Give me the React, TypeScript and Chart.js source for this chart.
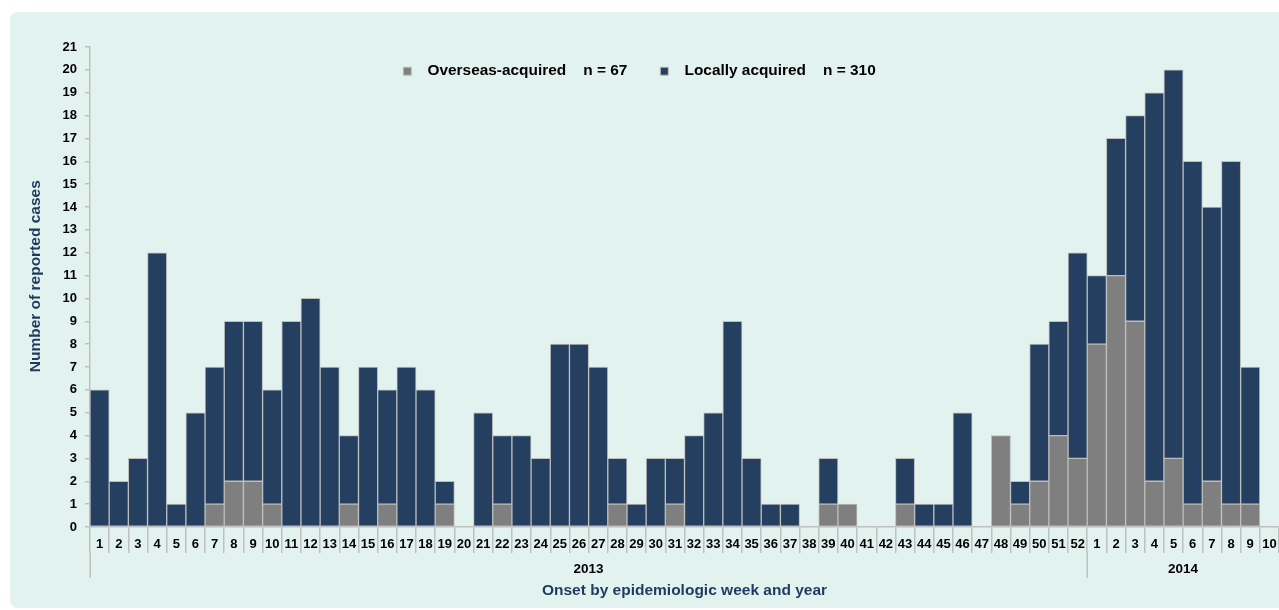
import React, { useEffect, useRef } from 'react';
import { Chart, registerables } from 'chart.js';

Chart.register(...registerables);

// Categories: epidemiologic weeks (2013 weeks 1-52, 2014 weeks 1-10)
const weekLabels = [
  '1', '2', '3', '4', '5', '6', '7', '8', '9', '10',
  '11', '12', '13', '14', '15', '16', '17', '18', '19', '20',
  '21', '22', '23', '24', '25', '26', '27', '28', '29', '30',
  '31', '32', '33', '34', '35', '36', '37', '38', '39', '40',
  '41', '42', '43', '44', '45', '46', '47', '48', '49', '50',
  '51', '52',
  '1', '2', '3', '4', '5', '6', '7', '8', '9', '10',
];

const overseasAcquired = [
  0, 0, 0, 0, 0, 0, 1, 2, 2, 1,
  0, 0, 0, 1, 0, 1, 0, 0, 1, 0,
  0, 1, 0, 0, 0, 0, 0, 1, 0, 0,
  1, 0, 0, 0, 0, 0, 0, 0, 1, 1,
  0, 0, 1, 0, 0, 0, 0, 4, 1, 2,
  4, 3,
  8, 11, 9, 2, 3, 1, 2, 1, 1, 0,
];

const locallyAcquired = [
  6, 2, 3, 12, 1, 5, 6, 7, 7, 5,
  9, 10, 7, 3, 7, 5, 7, 6, 1, 0,
  5, 3, 4, 3, 8, 8, 7, 2, 1, 3,
  2, 4, 5, 9, 3, 1, 1, 0, 2, 0,
  0, 0, 2, 1, 1, 5, 0, 0, 1, 6,
  5, 9,
  3, 6, 9, 17, 17, 15, 12, 15, 6, 0,
];

const yearLabels = ['2013', '2014'];
const yearStartIndex = [0, 52];

const yMin = 0;
const yMax = 21;

const FONT = "'Liberation Sans', Arial, Helvetica, sans-serif";
const NAVY = '#243f5f';
const GREY = '#7f7f7f';
const EDGE = '#bdbdbd';
const AXIS = '#c0c0c0';
const TITLE = '#1f3a5f';

const sum = (a: number[]) => a.reduce((s, v) => s + v, 0);

// Let the legend (placed in the reserved top band) paint below its layout box
const legendClipPlugin = {
  id: 'legendClip',
  beforeDraw(chart: any) {
    const lg = chart.legend;
    if (lg) {
      lg.bottom = lg.top + 60;
      lg.height = 60;
    }
  },
};

const yearRowPlugin = {
  id: 'yearRow',
  afterDraw(chart: any) {
    const xs = chart.scales.x;
    const ctx = chart.ctx as CanvasRenderingContext2D;
    const n = weekLabels.length;
    const step = xs.getPixelForValue(1) - xs.getPixelForValue(0);
    const lineTop = xs.top + 26;
    const lineBottom = xs.top + 51;
    ctx.save();
    ctx.strokeStyle = AXIS;
    ctx.lineWidth = 1.5;
    ctx.fillStyle = '#000';
    ctx.font = `bold 13.5px ${FONT}`;
    ctx.textAlign = 'center';
    ctx.textBaseline = 'middle';
    yearLabels.forEach((lab, g) => {
      const s = yearStartIndex[g];
      const e = g + 1 < yearStartIndex.length ? yearStartIndex[g + 1] - 1 : n - 1;
      const x0 = xs.getPixelForValue(s) - step / 2;
      const x1 = xs.getPixelForValue(e) + step / 2;
      ctx.beginPath();
      ctx.moveTo(Math.round(x0) + 0.25, lineTop);
      ctx.lineTo(Math.round(x0) + 0.25, lineBottom);
      ctx.stroke();
      ctx.fillText(lab, (x0 + x1) / 2, xs.top + 42);
    });
    ctx.restore();
  },
};

export default function App() {
  const ref = useRef<HTMLCanvasElement>(null);

  useEffect(() => {
    if (!ref.current) return;
    Chart.defaults.font.family = FONT;
    const chart = new Chart(ref.current, {
      type: 'bar',
      data: {
        labels: weekLabels,
        datasets: [
          {
            label: `  Overseas-acquired    n = ${sum(overseasAcquired)}`,
            data: overseasAcquired.map((v) => (v === 0 ? null : v)),
            backgroundColor: GREY,
            borderColor: EDGE,
            borderWidth: 1,
            borderSkipped: false,
            barPercentage: 1,
            categoryPercentage: 1,
          },
          {
            label: `  Locally acquired    n = ${sum(locallyAcquired)}`,
            data: locallyAcquired.map((v) => (v === 0 ? null : v)),
            backgroundColor: NAVY,
            borderColor: EDGE,
            borderWidth: 1,
            borderSkipped: false,
            barPercentage: 1,
            categoryPercentage: 1,
          },
        ],
      },
      options: {
        responsive: false,
        animation: false,
        layout: { padding: { top: 30.5, left: 0, right: 0, bottom: 0 } },
        plugins: {
          legend: {
            position: 'top',
            maxHeight: 16.5,
            labels: {
              boxWidth: 8,
              boxHeight: 8,
              padding: 33,
              color: '#000',
              font: { size: 15.4, weight: 'bold', family: FONT },
            },
          },
          tooltip: { enabled: false },
        },
        scales: {
          x: {
            stacked: true,
            offset: true,
            grid: {
              display: true,
              drawOnChartArea: false,
              drawTicks: true,
              tickLength: 26,
              color: AXIS,
              lineWidth: 1.5,
              offset: true,
            },
            border: { display: true, color: AXIS, width: 1.5 },
            ticks: {
              autoSkip: false,
              maxRotation: 0,
              minRotation: 0,
              padding: -16,
              color: '#000',
              font: { size: 13, weight: 'bold', family: FONT },
            },
            title: {
              display: true,
              text: 'Onset by epidemiologic week and year',
              color: TITLE,
              font: { size: 15.5, weight: 'bold', family: FONT },
              padding: { top: 0, bottom: 10 },
            },
            afterFit: (s: any) => {
              s.height = 83;
            },
          },
          y: {
            stacked: true,
            min: yMin,
            max: yMax,
            ticks: {
              stepSize: 1,
              padding: 8,
              color: '#000',
              font: { size: 13, weight: 'bold', family: FONT },
            },
            grid: {
              drawOnChartArea: false,
              drawTicks: true,
              tickLength: 5,
              color: AXIS,
              lineWidth: 1.5,
            },
            border: { display: true, color: AXIS, width: 1.5 },
            title: {
              display: true,
              text: '     Number of reported cases',
              color: TITLE,
              font: { size: 15.5, weight: 'bold', family: FONT },
              padding: { top: 26, bottom: 0 },
            },
            afterFit: (s: any) => {
              s.width = 90;
            },
          },
        },
      },
      plugins: [legendClipPlugin, yearRowPlugin],
    } as any);
    return () => chart.destroy();
  }, []);

  return (
    <div
      style={{
        position: 'absolute',
        left: 0,
        top: 0,
        width: 1279,
        height: 610,
        background: '#ffffff',
        overflow: 'hidden',
      }}
    >
      <div
        style={{
          position: 'absolute',
          left: 10,
          top: 12,
          width: 1300,
          height: 596,
          borderRadius: 8,
          background: '#e2f2ef',
        }}
      />
      <canvas
        ref={ref}
        width={1279}
        height={610}
        style={{ position: 'absolute', left: 0, top: 0, width: 1279, height: 610 }}
      />
    </div>
  );
}
